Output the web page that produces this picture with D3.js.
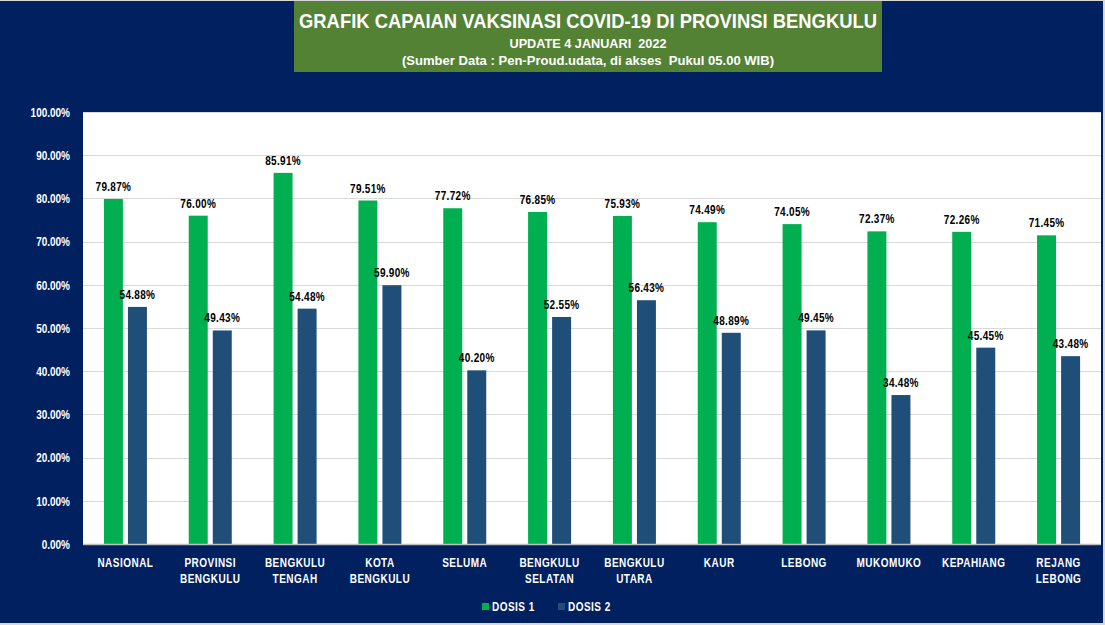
<!DOCTYPE html>
<html>
<head>
<meta charset="utf-8">
<script src="https://cdn.jsdelivr.net/npm/d3@7"></script>
<style>
  html, body { margin: 0; padding: 0; background: #ffffff; }
  svg { display: block; }
  text { font-family: "Liberation Sans", Arial, sans-serif; font-weight: bold; }
</style>
</head>
<body>
<svg id="chart" width="1105" height="625"></svg>
<script>
const categories = [
  ["NASIONAL"], ["PROVINSI", "BENGKULU"], ["BENGKULU", "TENGAH"], ["KOTA", "BENGKULU"],
  ["SELUMA"], ["BENGKULU", "SELATAN"], ["BENGKULU", "UTARA"], ["KAUR"], ["LEBONG"],
  ["MUKOMUKO"], ["KEPAHIANG"], ["REJANG", "LEBONG"]
];
const dosis1 = [79.87, 76.00, 85.91, 79.51, 77.72, 76.85, 75.93, 74.49, 74.05, 72.37, 72.26, 71.45];
const dosis2 = [54.88, 49.43, 54.48, 59.90, 40.20, 52.55, 56.43, 48.89, 49.45, 34.48, 45.45, 43.48];
const seriesNames = ["DOSIS 1", "DOSIS 2"];
const seriesColors = ["#00b050", "#1f4e79"];
const yTicks = [0, 10, 20, 30, 40, 50, 60, 70, 80, 90, 100];
const titleLines = [
  "GRAFIK CAPAIAN VAKSINASI COVID-19 DI PROVINSI BENGKULU",
  "UPDATE 4 JANUARI  2022",
  "(Sumber Data : Pen-Proud.udata, di akses  Pukul 05.00 WIB)"
];

(function () {
const svg = d3.select("#chart");
const W = 1105, H = 625;
const navy = "#002060";
const SX = 0.8; // horizontal condensing of label text

// outer frame
svg.append("rect").attr("x", 0).attr("y", 0).attr("width", W).attr("height", H).attr("fill", "#d9d9d9");
svg.append("rect").attr("x", 0).attr("y", 1).attr("width", 1103).attr("height", 622).attr("fill", navy);

// header
svg.append("rect").attr("x", 294).attr("y", 1).attr("width", 588).attr("height", 71).attr("fill", "#548235");
svg.append("text").attr("x", 588).attr("y", 27.5).attr("text-anchor", "middle")
  .attr("fill", "#fff").attr("font-size", 21)
  .attr("textLength", 578).attr("lengthAdjust", "spacingAndGlyphs").text(titleLines[0]);
svg.append("text").attr("x", 588).attr("y", 48).attr("text-anchor", "middle")
  .attr("fill", "#fff").attr("font-size", 13).style("white-space", "pre")
  .attr("textLength", 157).attr("lengthAdjust", "spacingAndGlyphs").text(titleLines[1]);
svg.append("text").attr("x", 588).attr("y", 65).attr("text-anchor", "middle")
  .attr("fill", "#fff").attr("font-size", 13).style("white-space", "pre")
  .attr("textLength", 372).attr("lengthAdjust", "spacingAndGlyphs").text(titleLines[2]);

// plot area
const pL = 83, pR = 1101, pT = 112, pB = 544;
svg.append("rect").attr("x", pL).attr("y", pT).attr("width", pR - pL).attr("height", pB - pT).attr("fill", "#fff");

const x0 = d3.scaleBand().domain(d3.range(categories.length)).range([pL, pR]).padding(0);
const x1 = d3.scaleBand().domain([0, 1]).range([-21.5, 21.5]).paddingInner(0.21);
const y = d3.scaleLinear().domain([0, 100]).range([pB, pT]);

// gridlines
svg.append("g").selectAll("line").data(yTicks.filter(d => d > 0)).join("line")
  .attr("x1", pL).attr("x2", pR)
  .attr("y1", d => Math.round(y(d)) + 0.5).attr("y2", d => Math.round(y(d)) + 0.5)
  .attr("stroke", "#d9d9d9").attr("stroke-width", 1);

// y axis labels
const yAxis = d3.axisLeft(y).tickValues(yTicks).tickSize(0).tickPadding(0)
  .tickFormat(d => d.toFixed(2) + "%");
const yg = svg.append("g").attr("transform", `translate(${70},0)`).call(yAxis);
yg.attr("font-family", null).attr("font-size", null);
yg.select(".domain").remove();
yg.selectAll("text").attr("fill", "#fff").attr("font-size", 12.5).attr("dy", "0.35em")
  .attr("x", 0).attr("transform", `scale(${SX},1)`);

// bars
const data = categories.map((c, i) => ({ i, vals: [dosis1[i], dosis2[i]] }));
const groups = svg.append("g").selectAll("g").data(data).join("g")
  .attr("transform", d => `translate(${x0(d.i) + x0.bandwidth() / 2},0)`);
groups.selectAll("rect").data(d => d.vals.map((v, s) => ({ v, s }))).join("rect")
  .attr("x", d => x1(d.s)).attr("width", x1.bandwidth())
  .attr("y", d => y(d.v)).attr("height", d => pB - y(d.v))
  .attr("fill", d => seriesColors[d.s]);
groups.selectAll("text.val").data(d => d.vals.map((v, s) => ({ v, s }))).join("text")
  .attr("class", "val")
  .attr("transform", d => `translate(${x1(d.s) + x1.bandwidth() / 2},${y(d.v) - 8}) scale(${SX},1)`)
  .attr("text-anchor", "middle").attr("fill", "#000").attr("font-size", 12.5)
  .style("letter-spacing", "0.4px")
  .text(d => d.v.toFixed(2) + "%");

// x axis line
svg.append("line").attr("x1", pL).attr("x2", pR).attr("y1", pB + 0.5).attr("y2", pB + 0.5)
  .attr("stroke", "#bfbfbf").attr("stroke-width", 1.5);

// category labels
const catG = svg.append("g").selectAll("text").data(categories).join("text")
  .attr("transform", (d, i) => `translate(${x0(i) + x0.bandwidth() / 2},0) scale(${SX},1)`)
  .attr("text-anchor", "middle").attr("fill", "#fff").attr("font-size", 12.5)
  .style("letter-spacing", "0.6px");
catG.selectAll("tspan").data(d => d).join("tspan")
  .attr("x", 0)
  .attr("y", (d, j) => 567 + j * 16)
  .text(d => d);

// legend
const legend = svg.append("g");
const legX = [482, 558];
seriesNames.forEach((n, s) => {
  legend.append("rect").attr("x", legX[s]).attr("y", 603).attr("width", 7).attr("height", 7).attr("fill", seriesColors[s]);
  legend.append("text").attr("transform", `translate(${legX[s] + 10},611) scale(${SX},1)`).attr("fill", "#fff")
    .attr("font-size", 12.5).style("letter-spacing", "0.6px").text(n);
});
})();
</script>
</body>
</html>
